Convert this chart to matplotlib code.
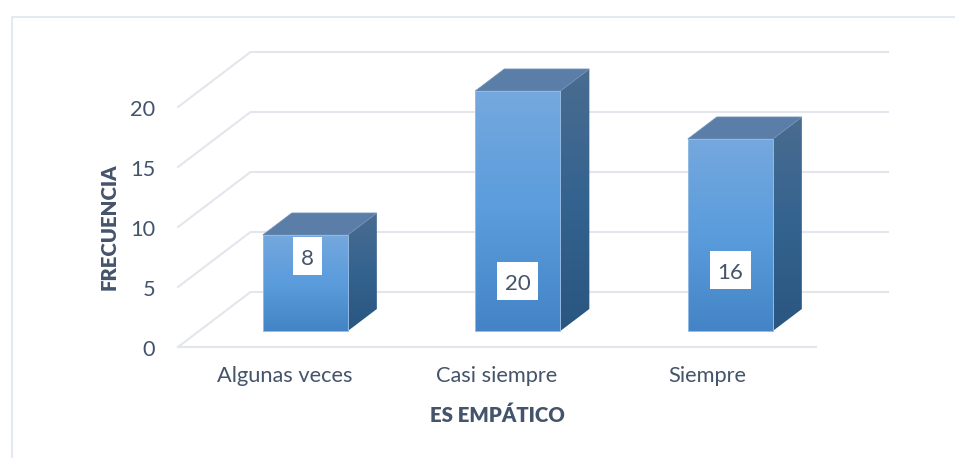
import numpy as np
import matplotlib
matplotlib.use("Agg")
import matplotlib.pyplot as plt
from matplotlib.colors import LinearSegmentedColormap
from matplotlib.lines import Line2D
from matplotlib.patches import Polygon, Rectangle
from matplotlib.transforms import ScaledTranslation

categories = ["Algunas veces", "Casi siempre", "Siempre"]
values = [8, 20, 16]
label_heights = [7.58, 5.5, 6.4]
label_shift = [0.009, 0.0, 0.0]
y_ticks = [0, 5, 10, 15, 20]

W, H = 955, 458
TEXT = "#44546a"
GRID = "#e3e6ec"
plt.rcParams["font.family"] = ["Lato", "DejaVu Sans"]

fig = plt.figure(figsize=(W / 100, H / 100), dpi=100)
fig.patch.set_facecolor("white")
L, R, B, T = 178, 815.5, 347, 107
ax = fig.add_axes([L / W, 1 - B / H, (R - L) / W, (B - T) / H])
ax.set_xlim(-0.5, 2.5)
ax.set_ylim(0, 20)
ax.patch.set_alpha(0)
for s in ax.spines.values():
    s.set_visible(False)

# oblique depth projection, in data units
ux = 3 / (R - L)
uy = 20 / (B - T)
DX, DY = 72.5 * ux, 55 * uy


def proj(x, y, d):
    return x + d * DX, y + d * DY


# grid: front-left corner -> back wall
for t in y_ticks:
    p0 = proj(-0.5, t, 0)
    p1 = proj(-0.5, t, 1)
    p2 = proj(2.5, t, 1)
    ax.plot([p0[0], p1[0], p2[0]], [p0[1], p1[1], p2[1]], color=GRID, lw=1.5,
            clip_on=False, zorder=1, solid_joinstyle="miter")
ax.plot([-0.5, 2.5], [0, 0], color=GRID, lw=1.5, clip_on=False, zorder=1)

front_cm = LinearSegmentedColormap.from_list("f", ["#4484c6", "#5a9cdc", "#75a8de"])
side_cm = LinearSegmentedColormap.from_list("s", ["#2a5680", "#34638f", "#4a6c90"])

BW = 85 * ux
D0, D1 = 16 / 55, 38 / 55
grad = np.linspace(0, 1, 256).reshape(-1, 1)

for i, v in enumerate(values):
    xl, xr = i - BW / 2, i + BW / 2
    fl0 = proj(xl, 0, D0); fr0 = proj(xr, 0, D0)
    fl1 = proj(xl, v, D0); fr1 = proj(xr, v, D0)
    bl1 = proj(xl, v, D1); br1 = proj(xr, v, D1); br0 = proj(xr, 0, D1)

    # side face
    side = Polygon([fr0, br0, br1, fr1], closed=True, fc="none", ec="none", zorder=3,
                   clip_on=False)
    ax.add_patch(side)
    im = ax.imshow(grad, cmap=side_cm, origin="lower", aspect="auto", zorder=3,
                   extent=[fr0[0], br0[0], fr0[1], br1[1]], interpolation="bilinear")
    im.set_clip_box(fig.bbox)
    im.set_clip_path(side)

    # top face
    ax.add_patch(Polygon([fl1, fr1, br1, bl1], closed=True, fc="#5a7ea8",
                         ec="#6d90b8", lw=0.6, zorder=3, clip_on=False))

    # front face
    front = Polygon([fl0, fr0, fr1, fl1], closed=True, fc="none", ec="none", zorder=4,
                    clip_on=False)
    ax.add_patch(front)
    im = ax.imshow(grad, cmap=front_cm, origin="lower", aspect="auto", zorder=4,
                   extent=[fl0[0], fr0[0], fl0[1], fl1[1]], interpolation="bilinear")
    im.set_clip_box(fig.bbox)
    im.set_clip_path(front)
    ax.add_patch(Polygon([fl0, fr0, fr1, fl1], closed=True, fc="none", ec="#93bbe4",
                         lw=0.7, zorder=5, clip_on=False))

    # value label
    cx = proj(i, 0, D0)[0] + label_shift[i]
    bw = (12 * len(str(v)) + 17) * ux
    bh = 38 * uy
    ax.add_patch(Rectangle((cx - bw / 2, label_heights[i] - bh / 2), bw, bh,
                           fc="white", ec="none", zorder=6))
    ax.text(cx, label_heights[i] - 0.07, str(v), ha="center", va="center_baseline",
            fontsize=16, color=TEXT, zorder=7)

ax.set_xlim(-0.5, 2.5)
ax.set_ylim(0, 20)

ax.set_xticks(range(3), categories)
ax.set_yticks(y_ticks)
ax.tick_params(axis="both", length=0, labelsize=15.7, labelcolor=TEXT)
ax.tick_params(axis="x", pad=14)
ax.tick_params(axis="y", pad=16.5)
for lab in ax.get_yticklabels():
    lab.set_transform(lab.get_transform() + ScaledTranslation(0, -1 / 100, fig.dpi_scale_trans))
xl3 = ax.get_xticklabels()[2]
xl3.set_transform(xl3.get_transform() + ScaledTranslation(-2 / 100, 0, fig.dpi_scale_trans))

fig.text(109 / W, 1 - 227 / H, "FRECUENCIA", rotation=90, ha="center", va="center",
         fontsize=14.7, fontweight=800, color=TEXT)
fig.text(497 / W, 1 - 415 / H, "ES EMPÁTICO", ha="center", va="center",
         fontsize=14.7, fontweight=800, color=TEXT)

# chart frame
fig.add_artist(Line2D([12 / W, 12 / W, 1], [0, 1 - 17 / H, 1 - 17 / H],
                      color="#e4e8f0", lw=1.5))

fig.savefig("out.png", dpi=100, facecolor="white")
